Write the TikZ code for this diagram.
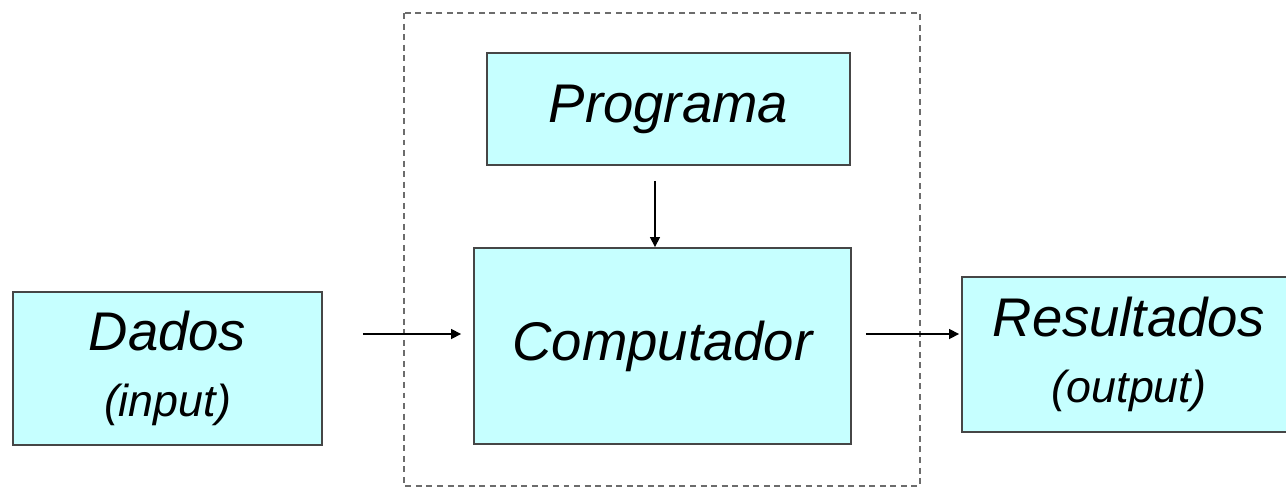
\documentclass[tikz,border=0pt]{standalone}
\usepackage{fontspec}
\setmainfont{Liberation Sans}
\usetikzlibrary{arrows.meta,shadows}
\definecolor{boxfill}{RGB}{198,255,255}
\definecolor{boxline}{RGB}{70,70,70}
\newcommand{\subtxt}{\fontsize{25.5}{30}\selectfont}
\begin{document}
\begin{tikzpicture}[x=0.02cm,y=-0.02cm,
    block/.style={draw=boxline,fill=boxfill,line width=1.1pt,inner sep=0pt,
      align=center,font=\fontsize{31}{36}\selectfont\itshape,
      drop shadow={shadow xshift=0.6pt,shadow yshift=-0.6pt,fill=gray!70,opacity=1}},
    flow/.style={line width=0.9pt,-{Triangle[length=0.2cm,width=0.2cm]}}]
      \useasboundingbox (0,0) rectangle (1286,488);
      \draw[gray!85!black,line width=1.2pt,dash pattern=on 3.4pt off 2.6pt]
        (404,13) rectangle (920,486);
      \draw
        (167.5,368.5) node[block,minimum width=6.18cm,minimum height=3.06cm] (dados){Dados\\[2pt]{\subtxt (input)}}
        (668.5,109) node[block,minimum width=7.26cm,minimum height=2.24cm] (prog){Programa}
        (662.5,346) node[block,minimum width=7.54cm,minimum height=3.92cm] (comp){Computador}
        (1129,354.5) node[block,minimum width=6.68cm,minimum height=3.1cm] (res){Resultados\\[2pt]{\subtxt (output)}};
      \coordinate (lvl) at (0,334);
      \coordinate (col) at (655,0);
      \begin{scope}[flow]
        \draw[shorten <=0.8cm,shorten >=0.24cm] (dados.east |- lvl) to (comp.west |- lvl);
        \draw[shorten <=0.3cm] (prog.south -| col) to (comp.north -| col);
        \draw[shorten <=0.28cm,shorten >=0.04cm] (comp.east |- lvl) to (res.west |- lvl);
      \end{scope}
    \end{tikzpicture}
\end{document}
